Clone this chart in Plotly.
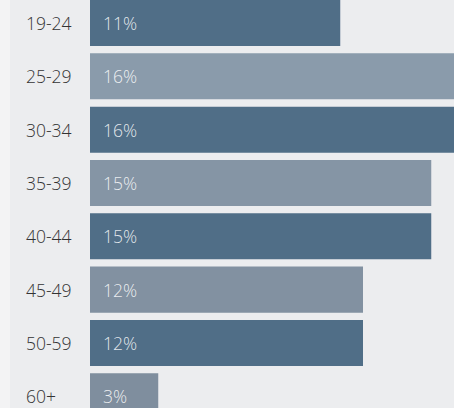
import plotly.graph_objects as go

# Age groups and their share of respondents (%)
age_groups = ["19-24", "25-29", "30-34", "35-39", "40-44", "45-49", "50-59", "60+"]
shares = [11, 16, 16, 15, 15, 12, 12, 3]

bar_colors = ["#506E87", "#8A9BAB", "#506E87", "#8595A5",
              "#506E87", "#8291A1", "#506E87", "#7F8E9E"]

BG = "#ECEDEF"
FONT = "Open Sans, Noto Sans, sans-serif"

fig = go.Figure(
    go.Bar(
        x=shares,
        y=age_groups,
        orientation="h",
        marker=dict(color=bar_colors, line=dict(width=0)),
        hoverinfo="skip",
    )
)

annotations = []
for grp, val in zip(age_groups, shares):
    # category label on the left, left-aligned
    annotations.append(dict(
        x=-0.1813, xref="paper", y=grp, yref="y",
        text=grp, showarrow=False, xanchor="left", yanchor="middle",
        font=dict(family=FONT, size=17.5, weight=300, color="#333333"),
    ))
    # value label inside the bar
    annotations.append(dict(
        x=0, xref="x", y=grp, yref="y",
        text=f"{val}%", showarrow=False, xanchor="left", yanchor="middle",
        xshift=11,
        font=dict(family=FONT, size=17.5, weight=300, color="rgba(255,255,255,0.85)"),
    ))

fig.update_layout(
    width=454, height=408,
    margin=dict(l=90, r=0, t=0, b=0),
    paper_bgcolor=BG, plot_bgcolor=BG,
    bargap=0.137,
    showlegend=False,
    annotations=annotations,
    shapes=[dict(type="rect", xref="paper", yref="paper",
                 x0=-0.26, x1=-0.2198, y0=0, y1=1,
                 fillcolor="#F3F3F4", line=dict(width=0), layer="below")],
    xaxis=dict(range=[0, 16], visible=False, fixedrange=True),
    yaxis=dict(type="category", categoryarray=age_groups,
               range=[7.22, -0.431], visible=False, fixedrange=True),
)

fig.write_html("out.html", config={"displayModeBar": False})
